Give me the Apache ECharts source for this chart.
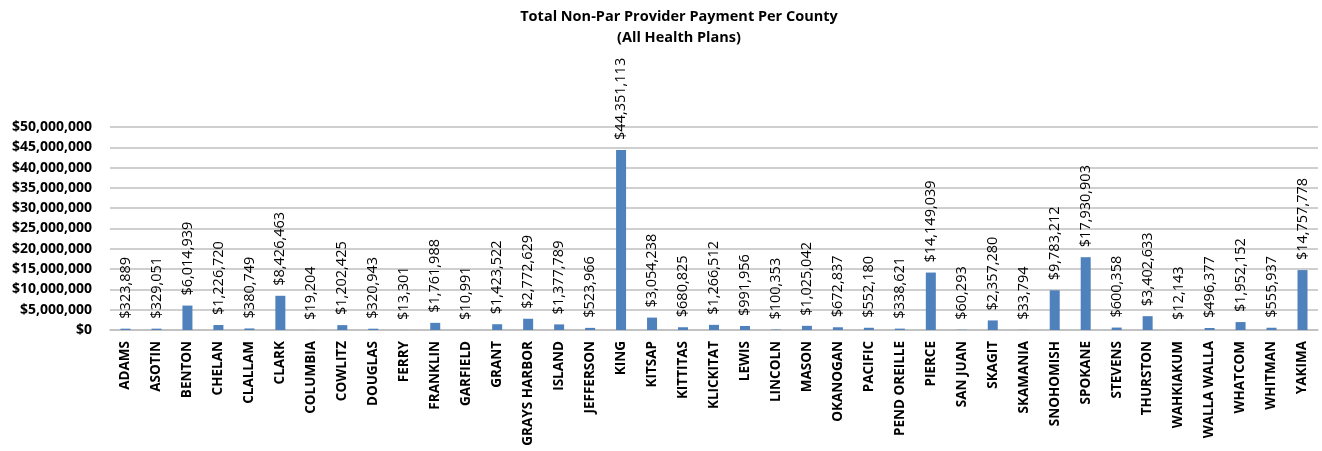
<!DOCTYPE html>
<html>
<head>
<meta charset="utf-8">
<script src="https://cdn.jsdelivr.net/npm/echarts@6/dist/echarts.min.js"></script>
<style>
  html, body { margin: 0; padding: 0; background: #fff; }
  #main { width: 1322px; height: 451px; }
</style>
</head>
<body>
<div id="main"></div>
<script>
var counties = ['ADAMS', 'ASOTIN', 'BENTON', 'CHELAN', 'CLALLAM', 'CLARK', 'COLUMBIA', 'COWLITZ',
    'DOUGLAS', 'FERRY', 'FRANKLIN', 'GARFIELD', 'GRANT', 'GRAYS HARBOR', 'ISLAND', 'JEFFERSON',
    'KING', 'KITSAP', 'KITTITAS', 'KLICKITAT', 'LEWIS', 'LINCOLN', 'MASON', 'OKANOGAN', 'PACIFIC',
    'PEND OREILLE', 'PIERCE', 'SAN JUAN', 'SKAGIT', 'SKAMANIA', 'SNOHOMISH', 'SPOKANE', 'STEVENS',
    'THURSTON', 'WAHKIAKUM', 'WALLA WALLA', 'WHATCOM', 'WHITMAN', 'YAKIMA'];
var payments = [323889, 329051, 6014939, 1226720, 380749, 8426463, 19204, 1202425,
    320943, 13301, 1761988, 10991, 1423522, 2772629, 1377789, 523966,
    44351113, 3054238, 680825, 1266512, 991956, 100353, 1025042, 672837, 552180,
    338621, 14149039, 60293, 2357280, 33794, 9783212, 17930903, 600358,
    3402633, 12143, 496377, 1952152, 555937, 14757778];
var yMax = 50000000;
var yStep = 5000000;

var chart = echarts.init(document.getElementById('main'));
var font = '"Open Sans", "Liberation Sans", sans-serif';

function money(v) {
    return '$' + echarts.format.addCommas(v);
}

var option = {
    animation: false,
    title: {
        text: 'Total Non-Par Provider Payment Per County\n(All Health Plans)',
        left: 674,
        textAlign: 'center',
        top: 1,
        textStyle: {
            color: '#000',
            fontSize: 14.5,
            fontWeight: 'bold',
            fontFamily: font,
            lineHeight: 21
        }
    },
    grid: {
        left: 110,
        right: 4,
        top: 127,
        bottom: 121,
        containLabel: false
    },
    xAxis: {
        type: 'category',
        data: counties,
        axisLine: { lineStyle: { color: '#bfbfbf', width: 1.5 } },
        axisTick: { show: false },
        axisLabel: {
            interval: 0,
            rotate: 90,
            margin: 11,
            color: '#000',
            fontSize: 13.5,
            fontWeight: 'bold',
            fontFamily: font
        }
    },
    yAxis: {
        type: 'value',
        min: 0,
        max: yMax,
        interval: yStep,
        axisLine: { show: false },
        axisTick: { show: false },
        splitLine: { lineStyle: { color: '#bfbfbf', width: 1.5 } },
        axisLabel: {
            margin: 18,
            color: '#000',
            fontSize: 14,
            fontWeight: 'bold',
            fontFamily: font,
            formatter: function (v) { return money(v); }
        }
    },
    series: [{
        type: 'bar',
        data: payments,
        barWidth: 10,
        itemStyle: { color: '#4f81bd' },
        label: {
            show: true,
            position: 'top',
            rotate: 90,
            align: 'left',
            verticalAlign: 'middle',
            distance: 10,
            color: '#000',
            fontSize: 14.5,
            fontFamily: font,
            formatter: function (p) { return money(p.value); }
        }
    }]
};

chart.setOption(option);
window.addEventListener('resize', function () {
    chart.resize();
});
</script>
</body>
</html>
